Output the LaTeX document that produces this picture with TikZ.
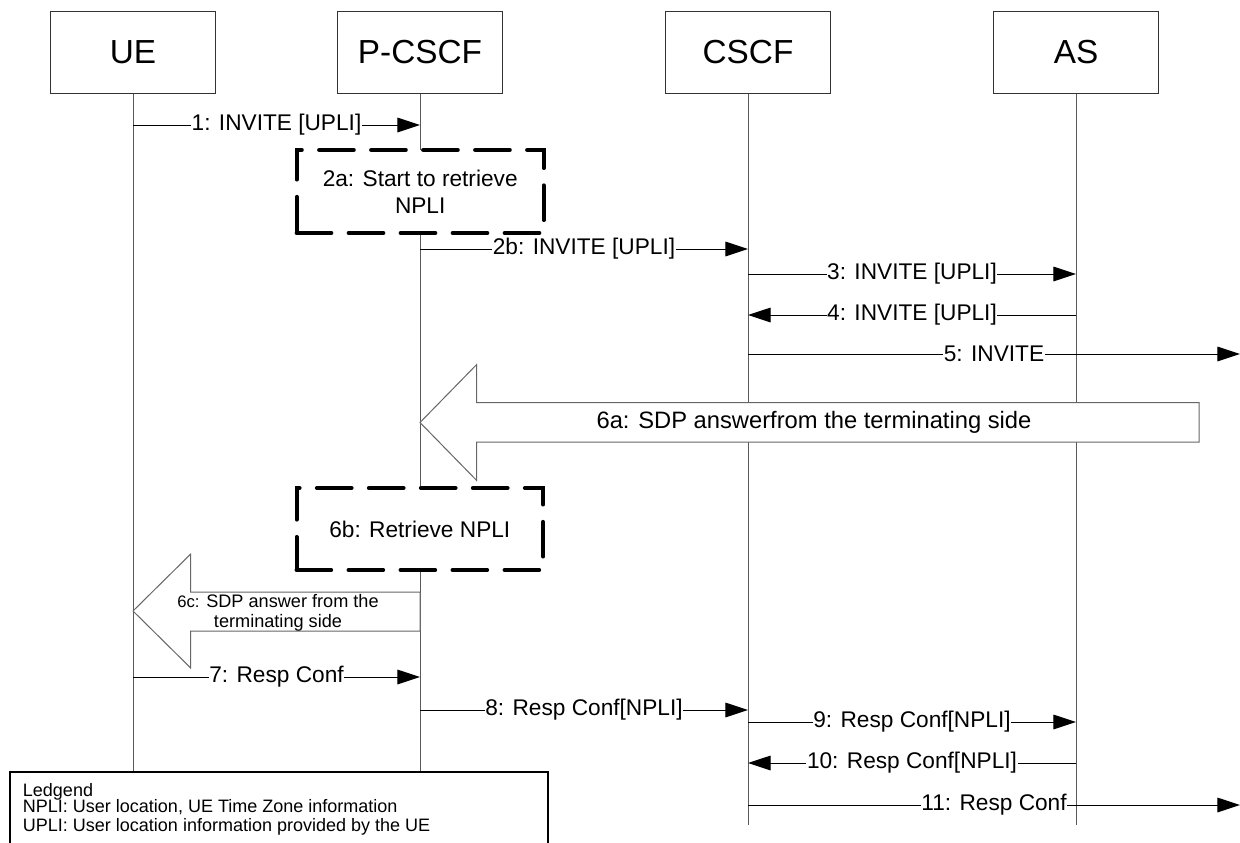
\documentclass[tikz,border=0pt]{standalone}
\usepackage{fontspec}
\setmainfont{Liberation Sans}
\usetikzlibrary{arrows.meta}
\begin{document}
\begin{tikzpicture}[x=0.75pt,y=-0.75pt,
  head/.style={draw=black!80, line width=0.75pt, minimum width=123.75pt, minimum height=61.5pt, inner sep=0pt, font=\fontsize{25}{30}\selectfont},
  life/.style={draw=black!65, line width=0.75pt},
  msg/.style={draw=black, line width=0.75pt, -{Triangle[length=17pt,width=11pt]}},
  lbl/.style={fill=white, inner sep=0.5pt, font=\fontsize{17}{20}\selectfont},
  dbox/.style={draw=black, fill=white, line width=3pt, dash pattern=on 26pt off 13pt, line cap=round, align=center, inner sep=0pt, font=\fontsize{17}{20.25}\selectfont},
  fat/.style={draw=black!60, fill=white, line width=0.75pt},
  legendbox/.style={draw=black, fill=white, line width=1.5pt},
  legtext/.style={anchor=base west, inner sep=0pt, font=\fontsize{13.5}{16}\selectfont}]
\useasboundingbox (0,0) rectangle (1240,843);
\clip (0,0) rectangle (1240,843);

% heads
\node[head] (ue) at (133,52) {UE};
\node[head] (pcscf) at (420,52) {P-CSCF};
\node[head] (cscf) at (748,52) {CSCF};
\node[head] (as) at (1076,52) {AS};

% lifeline ends
\coordinate (ueE) at (133,772);
\coordinate (pcE) at (420,772);
\coordinate (csE) at (748,825);
\coordinate (asE) at (1076,825);
\draw[life] (ue.south) -- (ueE);
\draw[life] (pcscf.south) -- (pcE);
\draw[life] (cscf.south) -- (csE);
\draw[life] (as.south) -- (asE);

% message end points
\coordinate (a1) at (133,125);  \coordinate (b1) at (420,125);
\coordinate (a2) at (420,249);  \coordinate (b2) at (748,249);
\coordinate (a3) at (748,274);  \coordinate (b3) at (1076,274);
\coordinate (a4) at (1076,315); \coordinate (b4) at (748,315);
\coordinate (a5) at (748,354);  \coordinate (b5) at (1240,354);
\coordinate (a7) at (133,677);  \coordinate (b7) at (420,677);
\coordinate (a8) at (420,710);  \coordinate (b8) at (748,710);
\coordinate (a9) at (748,722);  \coordinate (b9) at (1076,722);
\coordinate (a10) at (1076,763); \coordinate (b10) at (748,763);
\coordinate (a11) at (748,805); \coordinate (b11) at (1240,805);

\draw[msg] (a1) -- node[lbl] (l1) {1: INVITE [UPLI]} (b1);
\draw[msg] (a2) -- node[lbl] (l2) {2b: INVITE [UPLI]} (b2);
\draw[msg] (a3) -- node[lbl] (l3) {3: INVITE [UPLI]} (b3);
\draw[msg] (a4) -- node[lbl] (l4) {4: INVITE [UPLI]} (b4);
\draw[msg] (a5) -- node[lbl] (l5) {5: INVITE} (b5);
\draw[msg] (a7) -- node[lbl] (l7) {7: Resp Conf} (b7);
\draw[msg] (a8) -- node[lbl] (l8) {8: Resp Conf[NPLI]} (b8);
\draw[msg] (a9) -- node[lbl] (l9) {9: Resp Conf[NPLI]} (b9);
\draw[msg] (a10) -- node[lbl] (l10) {10: Resp Conf[NPLI]} (b10);
\draw[msg] (a11) -- node[lbl] (l11) {11: Resp Conf} (b11);

% dashed process boxes
\node[dbox, minimum width=185.3pt, minimum height=62.25pt] (s2a) at (420.2,191.5) {2a: Start to retrieve\\NPLI};
\node[dbox, minimum width=184.9pt, minimum height=61.5pt] (s6b) at (419.8,529) {6b: Retrieve NPLI};

% fat arrow 6a
\draw[fat] (420,422.5) -- (476.7,364.5) -- (476.7,402.5) -- (1199,402.5) -- (1199,442) -- (476.7,442) -- (476.7,480.5) -- cycle;
\node[inner sep=0pt, font=\fontsize{17.8}{20}\selectfont] (t6a) at (814,422.5) {6a: SDP answerfrom the terminating side};

% fat arrow 6c
\draw[fat] (133,611) -- (190.7,554) -- (190.7,592) -- (420,592) -- (420,631) -- (190.7,631) -- (190.7,668) -- cycle;
\node[inner sep=0pt, align=center, font=\fontsize{13.6}{15}\selectfont] (t6c) at (278,613) {{\fontsize{12.5}{13}\selectfont 6c:} SDP answer from the\\terminating side};

% legend
\draw[legendbox] (10,772) rectangle (547.6,860);
\node[legtext] (lg1) at (22.7,796) {Ledgend};
\node[legtext] (lg2) at (22.7,812.5) {NPLI: User location, UE Time Zone information};
\node[legtext] (lg3) at (22.7,831.5) {UPLI: User location information provided by the UE};
\end{tikzpicture}
\end{document}
